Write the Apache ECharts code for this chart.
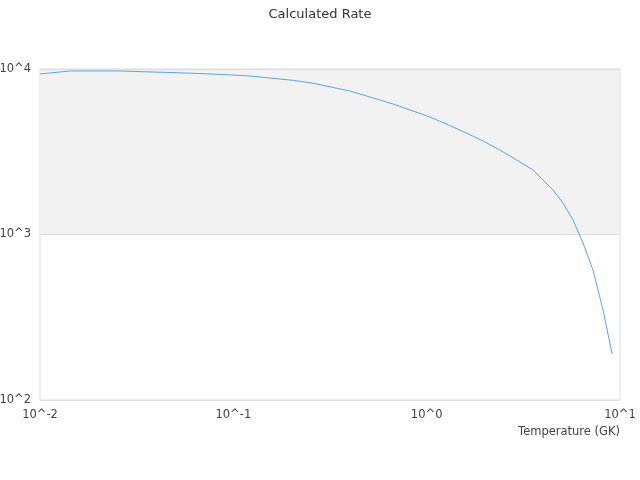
<!DOCTYPE html>
<html><head><meta charset="utf-8">
<script src="https://cdn.jsdelivr.net/npm/echarts@6/dist/echarts.min.js"></script>
<style>html,body{margin:0;padding:0;background:#fff}#c{width:640px;height:480px}</style>
</head><body><div id="c"></div>
<script>
const temperatures = [0.01, 0.0143, 0.026, 0.035, 0.045, 0.065, 0.092, 0.122, 0.174, 0.204, 0.258, 0.401, 0.67, 1.04, 1.37, 1.82, 2.05, 2.39, 2.70, 3.55, 4.50, 5.07, 5.71, 6.44, 7.25, 8.17, 9.10];
const rates = [9330, 9730, 9730, 9620, 9540, 9400, 9240, 9070, 8700, 8540, 8200, 7360, 6150, 5130, 4460, 3830, 3570, 3240, 2980, 2455, 1858, 1549, 1225, 889, 610, 350, 190];
const titleText = 'Calculated Rate';
const xName = 'Temperature (GK)';

const chart = echarts.init(document.getElementById('c'), null, {renderer: 'canvas'});
const fmt = v => '10^' + Math.round(Math.log10(v));
chart.setOption({
  animation: false,
  title: {text: titleText, left: 'center', top: 3,
    textStyle: {fontSize: 13, fontWeight: 'normal', color: '#333', fontFamily: 'DejaVu Sans'}},
  grid: {left: 40, right: 20, top: 69, bottom: 80, show: true, borderColor: '#ddd', borderWidth: 1,
    backgroundColor: 'transparent', containLabel: false, outerBoundsMode: 'none'},
  xAxis: {type: 'log', logBase: 10, min: 0.01, max: 10,
    name: xName, nameLocation: 'end', nameGap: 0,
    nameTextStyle: {align: 'right', verticalAlign: 'top', padding: [26, 0, 0, 0], fontSize: 11.5, color: '#444', fontFamily: 'DejaVu Sans'},
    axisLine: {show: false}, axisTick: {show: false}, splitLine: {show: false},
    axisLabel: {formatter: fmt, fontSize: 11.5, color: '#444', margin: 9, fontFamily: 'DejaVu Sans'}},
  yAxis: {type: 'log', logBase: 10, min: 100, max: 10000,
    axisLine: {show: false}, axisTick: {show: false},
    splitLine: {show: true, lineStyle: {color: '#ddd'}},
    splitArea: {show: true, areaStyle: {color: ['rgba(255,255,255,0)', '#f2f2f2']}},
    axisLabel: {formatter: fmt, fontSize: 11.5, color: '#444', margin: 9, fontFamily: 'DejaVu Sans'}},
  series: [{type: 'line', data: temperatures.map((t, i) => [t, rates[i]]),
    showSymbol: false, symbol: 'none', lineStyle: {color: '#5aa2f2', width: 1}}]
});
</script></body></html>
